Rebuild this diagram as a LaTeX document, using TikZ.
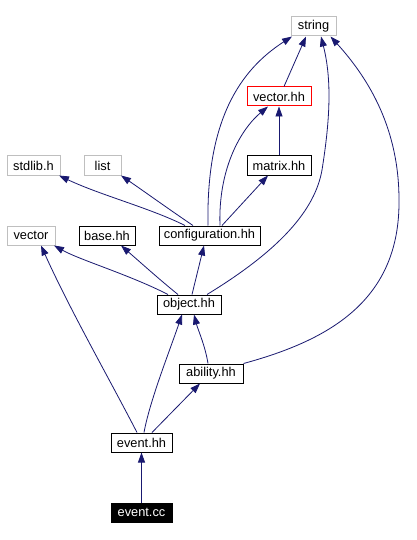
\documentclass[tikz,border=0pt]{standalone}
\usepackage{fontspec}
\setmainfont{Liberation Sans}
\usetikzlibrary{arrows.meta}
\definecolor{edgeblue}{HTML}{191970}
\definecolor{grayborder}{HTML}{BFBFBF}
\begin{document}
\begin{tikzpicture}[x=1pt,y=-1pt,
  box/.style={draw=black,line width=1pt,minimum height=19pt,inner sep=0pt,font=\fontsize{12.8}{14}\selectfont},
  graybox/.style={box,draw=grayborder},
  redbox/.style={box,draw=red},
  mainbox/.style={box,fill=black,text=white},
  dep/.style={draw=edgeblue,line width=0.8pt,-{Triangle[length=10pt,width=7pt]}}
]
\useasboundingbox (0,0) rectangle (417,540);
\fill[white] (0,0) rectangle (417,540);
\node[graybox,minimum width=45pt] (string) at (313.5,26.5) {string};
\node[redbox,minimum width=64pt] (vechh) at (279,96.5) {vector.hh};
\node[box,minimum width=64pt] (matrix) at (279,165.5) {matrix.hh};
\node[graybox,minimum width=53pt] (stdlib) at (33.5,165.5) {stdlib.h};
\node[graybox,minimum width=37pt] (list) at (102.5,165.5) {list};
\node[graybox,minimum width=48pt] (vector) at (31,235.5) {vector};
\node[box,minimum width=56pt] (base) at (107,235.5) {base.hh};
\node[box,minimum width=101pt] (conf) at (209.5,235.5) {configuration.hh};
\node[box,minimum width=64pt] (object) at (189,304.5) {object.hh};
\node[box,minimum width=64pt] (ability) at (211,373.5) {ability.hh};
\node[box,minimum width=61pt] (eventhh) at (141.5,442.5) {event.hh};
\node[mainbox,minimum width=61pt] (eventcc) at (141.5,512.5) {event.cc};

\draw[dep] (eventcc.north) -- (eventhh.south);
\draw[dep] ([xshift=-4.5pt]eventhh.north) .. controls (110,380) and (70,310) .. ([xshift=10pt]vector.south);
\draw[dep] ([xshift=2.5pt]eventhh.north) .. controls (150,400) and (170,350) .. ([xshift=-7pt]object.south);
\draw[dep] ([xshift=10.5pt]eventhh.north) -- ([xshift=-11pt]ability.south);
\draw[dep] ([xshift=-3pt]ability.north) .. controls (205,345) and (198,330) .. ([xshift=5pt]object.south);
\draw[dep] (ability.north east) .. controls (330,340) and (400,300) .. (399,200) .. controls (399,130) and (370,80) .. ([xshift=17pt]string.south);
\draw[dep] ([xshift=-21pt]object.north) .. controls (130,275) and (80,260) .. ([xshift=23pt]vector.south);
\draw[dep] ([xshift=-11pt]object.north) .. controls (160,280) and (140,262) .. ([xshift=14pt]base.south);
\draw[dep] ([xshift=3pt]object.north) -- ([xshift=-5.5pt]conf.south);
\draw[dep] ([xshift=18pt]object.north) .. controls (280,250) and (315,210) .. (322,170) .. controls (330,120) and (332,80) .. ([xshift=7.5pt]string.south);
\draw[dep] ([xshift=-24.5pt]conf.north) .. controls (150,208) and (100,195) .. ([xshift=25.5pt]stdlib.south);
\draw[dep] ([xshift=-16.5pt]conf.north) .. controls (170,210) and (145,192) .. ([xshift=18.5pt]list.south);
\draw[dep] ([xshift=-1.5pt]conf.north) .. controls (206,120) and (240,70) .. ([xshift=-21.5pt]string.south);
\draw[dep] ([xshift=10.5pt]conf.north) .. controls (218,170) and (240,130) .. ([xshift=-11pt]vechh.south);
\draw[dep] ([xshift=12.5pt]conf.north) -- ([xshift=-11pt]matrix.south);
\draw[dep] (matrix.north) -- (vechh.south);
\draw[dep] ([xshift=5pt]vechh.north) -- ([xshift=-7.5pt]string.south);
\end{tikzpicture}
\end{document}
